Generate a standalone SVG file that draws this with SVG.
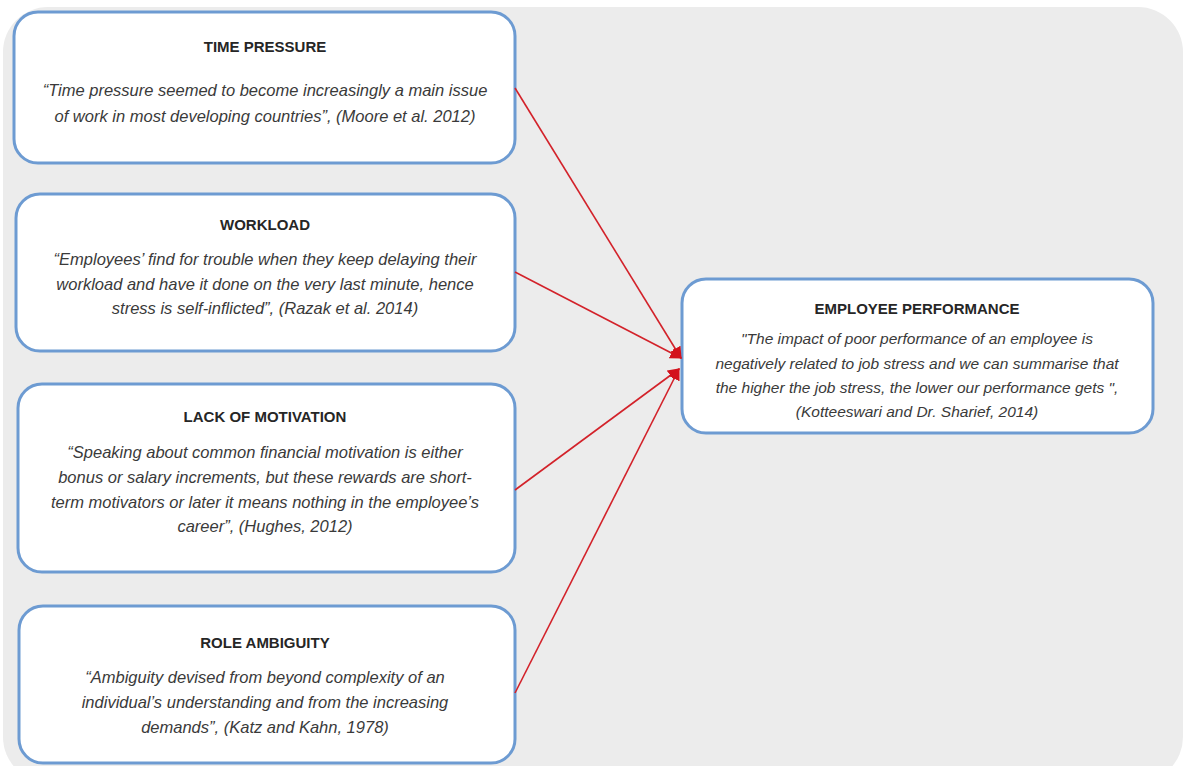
<svg xmlns="http://www.w3.org/2000/svg" width="1185" height="766" viewBox="0 0 1185 766">
  <defs>
    <style>
      .panel { fill: #ececec; }
      .box { fill: #ffffff; stroke: #6d9bd2; stroke-width: 3; }
      .title { font-family: "Liberation Sans", Arial, sans-serif; font-size: 15px; font-weight: bold; fill: #262626; text-anchor: middle; }
      .quote { font-family: "Liberation Sans", Arial, sans-serif; font-size: 16.5px; font-style: italic; fill: #3a3a3a; text-anchor: middle; }
      .quote.small { font-size: 15.5px; }
      .link { stroke: #d3222a; stroke-width: 1.6; fill: none; marker-end: url(#arrow); }
    </style>
    <marker id="arrow" viewBox="0 0 10 10" refX="9" refY="5" markerWidth="12" markerHeight="12" markerUnits="userSpaceOnUse" orient="auto">
      <path d="M0,0 L10,5 L0,10 z" fill="#d3121c"/>
    </marker>
  </defs>

  <!-- grey backdrop -->
  <rect class="panel" x="3" y="7" width="1180" height="775" rx="45" ry="45"/>

  <g id="time-pressure">
    <rect class="box" x="14" y="12" width="501" height="151" rx="24" ry="24"/>
    <text class="title" x="265" y="52">TIME PRESSURE</text>
    <text class="quote" x="265" y="96">“Time pressure seemed to become increasingly a main issue</text>
    <text class="quote" x="265" y="122">of work in most developing countries”, (Moore et al. 2012)</text>
  </g>

  <g id="workload">
    <rect class="box" x="16" y="194" width="499" height="157" rx="24" ry="24"/>
    <text class="title" x="265" y="230">WORKLOAD</text>
    <text class="quote" x="265" y="265">“Employees’ find for trouble when they keep delaying their</text>
    <text class="quote" x="265" y="290">workload and have it done on the very last minute, hence</text>
    <text class="quote" x="265" y="314">stress is self-inflicted”, (Razak et al. 2014)</text>
  </g>

  <g id="lack-of-motivation">
    <rect class="box" x="18" y="384" width="497" height="188" rx="24" ry="24"/>
    <text class="title" x="265" y="422">LACK OF MOTIVATION</text>
    <text class="quote" x="265" y="458">“Speaking about common financial motivation is either</text>
    <text class="quote" x="265" y="483">bonus or salary increments, but these rewards are short-</text>
    <text class="quote" x="265" y="508">term motivators or later it means nothing in the employee’s</text>
    <text class="quote" x="265" y="532">career”, (Hughes, 2012)</text>
  </g>

  <g id="role-ambiguity">
    <rect class="box" x="19" y="606" width="496" height="157" rx="24" ry="24"/>
    <text class="title" x="265" y="648">ROLE AMBIGUITY</text>
    <text class="quote" x="265" y="683">“Ambiguity devised from beyond complexity of an</text>
    <text class="quote" x="265" y="708">individual’s understanding and from the increasing</text>
    <text class="quote" x="265" y="733">demands”, (Katz and Kahn, 1978)</text>
  </g>

  <g id="employee-performance">
    <rect class="box" x="682" y="279" width="471" height="154" rx="24" ry="24"/>
    <text class="title" x="917" y="314">EMPLOYEE PERFORMANCE</text>
    <text class="quote small" x="917" y="344">"The impact of poor performance of an employee is</text>
    <text class="quote small" x="917" y="369">negatively related to job stress and we can summarise that</text>
    <text class="quote small" x="917" y="393">the higher the job stress, the lower our performance gets ",</text>
    <text class="quote small" x="917" y="417">(Kotteeswari and Dr. Sharief, 2014)</text>
  </g>

  <g id="connectors">
    <line class="link" x1="515" y1="88" x2="681" y2="358"/>
    <line class="link" x1="515" y1="272" x2="681" y2="358"/>
    <line class="link" x1="515" y1="490" x2="679" y2="369"/>
    <line class="link" x1="515" y1="693" x2="679" y2="369"/>
  </g>
</svg>
